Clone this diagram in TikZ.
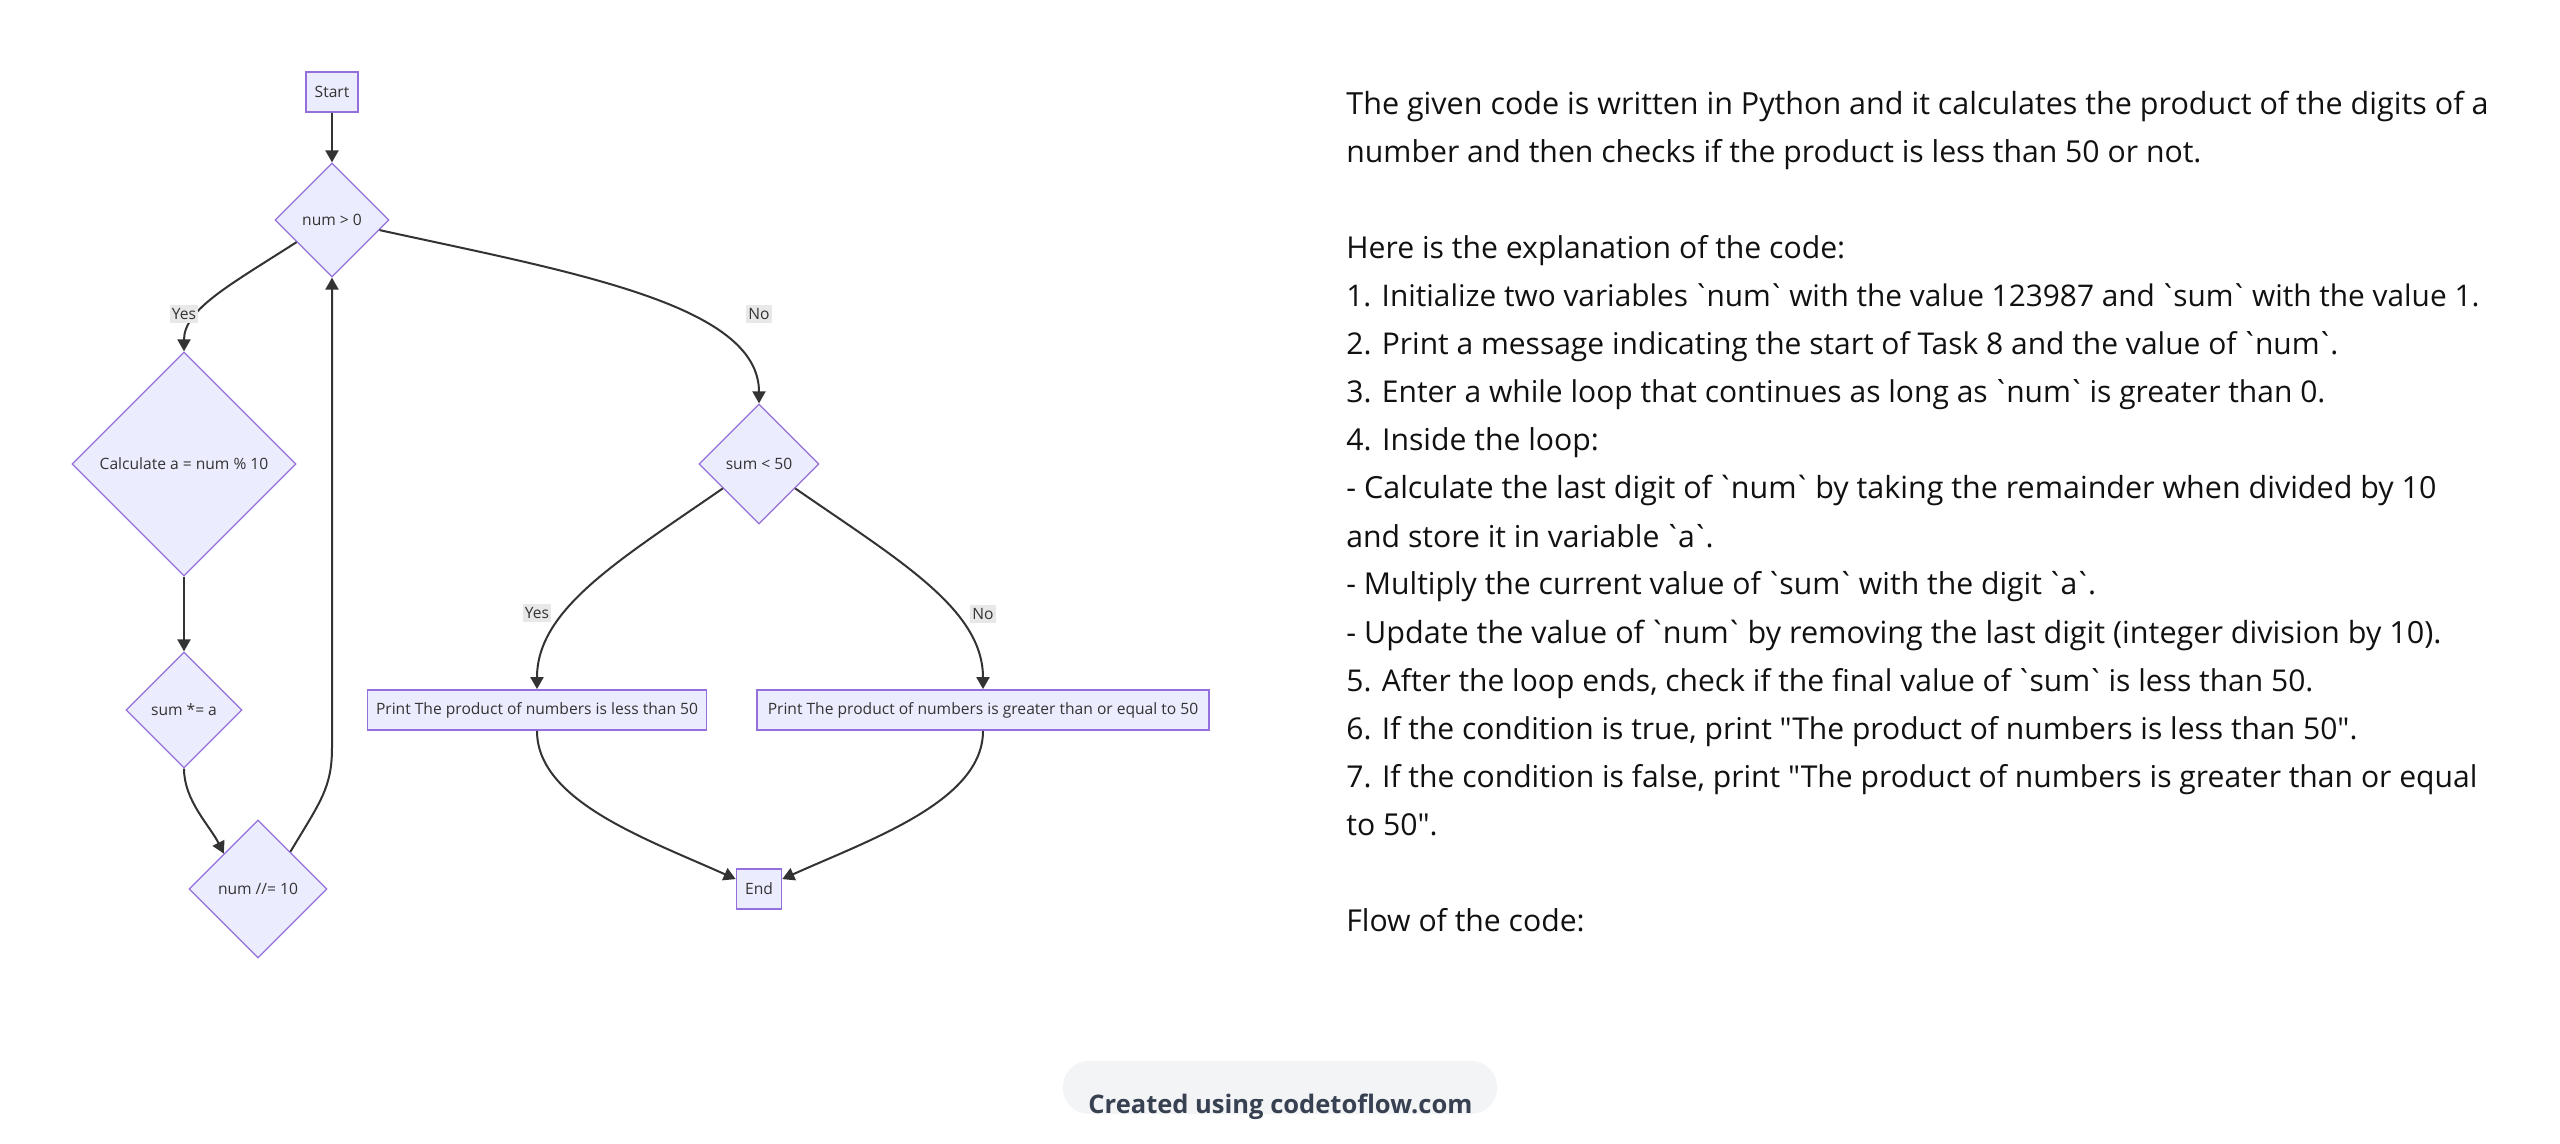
\documentclass[tikz,border=0pt]{standalone}
\usepackage{fontspec}
\usetikzlibrary{shapes.geometric,arrows.meta,calc}
\newfontfamily\txtfont{Open Sans}
\newfontfamily\ndfont{Open Sans}
\definecolor{nodefill}{HTML}{ECECFF}
\definecolor{nodeline}{HTML}{9370DB}
\definecolor{edgecol}{HTML}{333333}
\definecolor{lblbg}{HTML}{E8E8E8}
\definecolor{txtcol}{HTML}{111111}
\definecolor{badgebg}{HTML}{F3F4F6}
\definecolor{badgetxt}{HTML}{374151}
\newlength\fitlen
\newcommand\bq{\kern-0.11em\textasciigrave\kern-0.11em}
\newcommand\nodefnt{\ndfont\fontsize{\ndsize pt}{\ndsize pt}\selectfont}
\newcommand\badgefnt{\txtfont\bfseries\fontsize{\bdsize pt}{\bdsize pt}\selectfont}
\newcommand\fitsize[3]{\settowidth\fitlen{\txtfont\fontsize{10pt}{12pt}\selectfont #3}\pgfmathsetmacro#1{10*#2/\fitlen}}
\newcommand\sz[1]{\fontsize{#1 pt}{#1 pt}\selectfont}
% explanation lines
\newcommand\lA{The given code is written in Python and it calculates the product of the digits of a}
\newcommand\lB{number and then checks if the product is less than 50 or not.}
\newcommand\lC{Here is the explanation of the code:}
\newcommand\lD{1. Initialize two variables \bq num\bq{} with the value 123987 and \bq sum\bq{} with the value 1.}
\newcommand\lE{2. Print a message indicating the start of Task 8 and the value of \bq num\bq.}
\newcommand\lF{3. Enter a while loop that continues as long as \bq num\bq{} is greater than 0.}
\newcommand\lG{4. Inside the loop:}
\newcommand\lH{- Calculate the last digit of \bq num\bq{} by taking the remainder when divided by 10}
\newcommand\lI{and store it in variable \bq a\bq.}
\newcommand\lJ{- Multiply the current value of \bq sum\bq{} with the digit \bq a\bq.}
\newcommand\lK{- Update the value of \bq num\bq{} by removing the last digit (integer division by 10).}
\newcommand\lL{5. After the loop ends, check if the final value of \bq sum\bq{} is less than 50.}
\newcommand\lM{6. If the condition is true, print "The product of numbers is less than 50".}
\newcommand\lN{7. If the condition is false, print "The product of numbers is greater than or equal}
\newcommand\lO{to 50".}
\newcommand\lP{Flow of the code:}
\tikzset{
  rbox/.style={rectangle, draw=nodeline, fill=nodefill, line width=0.9pt, minimum height=20pt, inner xsep=4.25pt, inner ysep=0pt, text=edgecol, font=\nodefnt},
  dbox/.style={diamond, aspect=1, draw=nodeline, fill=nodefill, line width=0.6pt, inner sep=0pt, text=edgecol, font=\nodefnt},
  lbl/.style={fill=lblbg, inner xsep=1pt, inner ysep=1.5pt, text=edgecol, font=\nodefnt},
  arr/.style={draw=edgecol, line width=1pt, -{Triangle[length=6pt,width=6.5pt]}},
  txt/.style={anchor=base west, inner sep=0pt, text=txtcol, font=\txtfont},
}
\begin{document}
\settowidth\fitlen{\ndfont\fontsize{10pt}{12pt}\selectfont Print The product of numbers is less than 50}%
\pgfmathsetmacro\ndsize{10*161/\fitlen}%
\settowidth\fitlen{\txtfont\bfseries\fontsize{10pt}{12pt}\selectfont Created using codetoflow.com}%
\pgfmathsetmacro\bdsize{10*192/\fitlen}%
\fitsize\sA{571}{\lA}%
\fitsize\sB{427.5}{\lB}%
\fitsize\sD{566.5}{\lD}%
\fitsize\sE{496}{\lE}%
\fitsize\sF{489.5}{\lF}%
\fitsize\sH{545}{\lH}%
\fitsize\sK{547.5}{\lK}%
\fitsize\sL{483.5}{\lL}%
\fitsize\sM{505.5}{\lM}%
\fitsize\sN{565.5}{\lN}%
\pgfmathsetmacro\sDef{(\sA+\sB+\sD+\sE+\sF+\sH+\sK+\sL+\sM+\sN)/10}%
\begin{tikzpicture}[x=0.5pt,y=-0.5pt]
\fill[white] (0,0) rectangle (2560,1144);
\useasboundingbox (0,0) rectangle (2560,1144);

% nodes
\node[rbox, minimum width=25.5pt] (start) at (332,92) {Start};
\node[dbox, minimum size=57pt] (c1) at (332,220) {num > 0};
\node[dbox, minimum size=112pt] (calc) at (184,464) {Calculate a = num \% 10};
\node[dbox, minimum size=60pt] (s50) at (759,464) {sum < 50};
\node[dbox, minimum size=58pt] (mul) at (184,710) {sum *= a};
\node[dbox, minimum size=69pt] (div) at (258,889) {num //= 10};
\node[rbox, minimum width=169.5pt] (pl) at (537,710) {Print The product of numbers is less than 50};
\node[rbox, minimum width=226pt] (pg) at (983,710) {Print The product of numbers is greater than or equal to 50};
\node[rbox, minimum width=21pt] (end) at (759,889) {End};

% edges
\draw[arr] (start.south) -- (c1.north);
\draw[arr] (c1.212) .. controls +(-67,43) and +(0,-42) .. (calc.north);
\draw[arr] (c1.-12) .. controls +(192,42) and +(0,-99) .. (s50.north);
\draw[arr] (calc.south) -- (mul.north);
\draw[arr] (mul.south) .. controls +(0,32) and +(-14,-28) .. (div.134);
\coordinate (loopc) at ($(c1.south)+(0,470)$);
\draw[arr] (div.49) .. controls +(30,-50) and +(0,40) .. (loopc) -- (c1.south);
\draw[arr] (s50.214) .. controls +(-104,72) and +(0,-80) .. (pl.north);
\draw[arr] (s50.-34) .. controls +(104,72) and +(0,-80) .. (pg.north);
\draw[arr] (pl.south) .. controls +(0,70) and +(-89,-40) .. (end.157);
\draw[arr] (pg.south) .. controls +(0,70) and +(89,-40) .. (end.23);

% edge labels
\node[lbl] (l1) at (184,314) {Yes};
\node[lbl] (l2) at (759,314) {No};
\node[lbl] (l3) at (537,613) {Yes};
\node[lbl] (l4) at (983,614) {No};

% explanation text
\node[txt] (t0) at (1346,115) {\sz\sA\lA};
\node[txt] (t1) at (1346,163) {\sz\sB\lB};
\node[txt] (t3) at (1346,259) {\sz\sDef\lC};
\node[txt] (t4) at (1346,307) {\sz\sD\lD};
\node[txt] (t5) at (1346,355) {\sz\sE\lE};
\node[txt] (t6) at (1346,403) {\sz\sF\lF};
\node[txt] (t7) at (1346,451) {\sz\sDef\lG};
\node[txt] (t8) at (1346,499) {\sz\sH\lH};
\node[txt] (t9) at (1346,547) {\sz\sDef\lI};
\node[txt] (t10) at (1346,595) {\sz\sDef\lJ};
\node[txt] (t11) at (1346,643) {\sz\sK\lK};
\node[txt] (t12) at (1346,691) {\sz\sL\lL};
\node[txt] (t13) at (1346,739) {\sz\sM\lM};
\node[txt] (t14) at (1346,787) {\sz\sN\lN};
\node[txt] (t15) at (1346,835) {\sz\sDef\lO};
\node[txt] (t17) at (1346,931) {\sz\sDef\lP};

% badge
\node[fill=badgebg, rounded corners=13pt, minimum width=217pt, minimum height=26.5pt, inner sep=0pt] (badge) at (1280,1087.5) {};
\node[anchor=base west, inner sep=0pt, text=badgetxt, font=\badgefnt] (badgetext) at (1088,1113) {Created using codetoflow.com};
\end{tikzpicture}
\end{document}
